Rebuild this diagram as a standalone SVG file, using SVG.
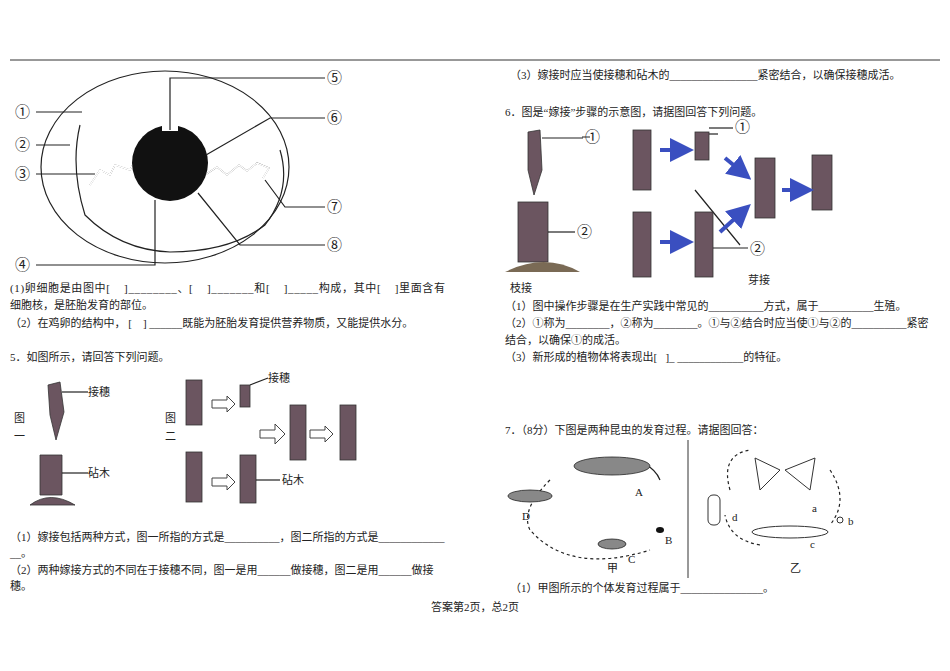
<svg xmlns="http://www.w3.org/2000/svg" width="950" height="671" viewBox="0 0 950 671" xml:space="preserve">
<defs>
<style>
text{font-family:"Liberation Serif","Noto Sans CJK SC",serif;font-size:11px;fill:#222;white-space:pre}
.lb{font-size:15px}
.ln{stroke:#222;stroke-width:1.2;fill:none}
.br{fill:#6b5560;stroke:#333;stroke-width:0.8}
.bw{fill:#888;stroke:#222;stroke-width:0.8}
</style>
<marker id="ba" markerWidth="6" markerHeight="6" refX="3" refY="3" orient="auto"><path d="M0,0L6,3L0,6z" fill="#3a4fc0"/></marker>
</defs>
<rect width="950" height="671" fill="#fff"/>
<line x1="10" y1="60" x2="940" y2="60" stroke="#333"/>
<g id="egg">
<ellipse cx="165" cy="167" rx="124" ry="96" class="ln" stroke-width="2"/>
<path d="M80,125 Q70,167 85,215 Q120,250 170,252 Q230,252 265,225 Q292,190 280,150" class="ln"/>
<path d="M90,185 l10,-15 10,5 5,-10 15,5 5,-10 8,10 -5,8 10,5 M205,175 l12,-8 10,8 12,-10 8,6 10,-8 12,5 -6,10" class="ln" stroke-width="4"/>
<path d="M90,185 l10,-15 10,5 5,-10 15,5 5,-10 8,10 -5,8 10,5 M205,175 l12,-8 10,8 12,-10 8,6 10,-8 12,5 -6,10" stroke="#fff" stroke-width="1.5" fill="none"/>
<circle cx="170" cy="163" r="38" fill="#111"/>
<rect x="162" y="125" width="16" height="6" fill="#fff"/>
</g>
<g id="connectors" class="ln" stroke-width="1">
<path d="M36,112H82 M36,145H70 M36,174H95 M36,265H155V200 M170,130V78H325 M206,155L270,118H325 M265,180L285,207H325 M198,193L240,245H325"/>
<path d="M708,134H718"/>
<path d="M695,190L740,245 M590,137H582"/>
</g>
<g id="egglabels">
<text x="15" y="117" class="lb">①</text><text x="15" y="150" class="lb">②</text><text x="15" y="179" class="lb">③</text><text x="15" y="270" class="lb">④</text>
<text x="327" y="83" class="lb">⑤</text><text x="327" y="123" class="lb">⑥</text><text x="327" y="212" class="lb">⑦</text><text x="327" y="250" class="lb">⑧</text>
</g>
<g id="text-left">
<text x="10" y="292" textLength="435">(1)卵细胞是由图中[    ]________、[    ]_______和[    ]_____构成，其中[    ]里面含有</text>
<text x="10" y="309">细胞核，是胚胎发育的部位。</text>
<text x="10" y="327">（2）在鸡卵的结构中， [    ] ______既能为胚胎发育提供营养物质，又能提供水分。</text>
<text x="10" y="361">5．如图所示，请回答下列问题。</text>
<text x="10" y="541">（1）嫁接包括两种方式，图一所指的方式是__________，图二所指的方式是____________</text>
<text x="10" y="557">__。</text>
<text x="10" y="574">（2）两种嫁接方式的不同在于接穗不同，图一是用______做接穗，图二是用______做接</text>
<text x="10" y="590">穗。</text>
<text x="475" y="611" text-anchor="middle" font-size="10">答案第2页，总2页</text>
</g>
<g id="fig5">
<path d="M48,385l12,-3 4,30 -8,28 -6,-25z" class="br"/>
<path d="M40,455h22v40h-22z" class="br"/><path d="M30,505q20,-15 45,0z" class="br"/>
<line x1="62" y1="392" x2="88" y2="392" class="ln"/><text x="88" y="396" font-size="10">接穗</text>
<line x1="62" y1="473" x2="88" y2="473" class="ln"/><text x="88" y="477" font-size="10">砧木</text>
<text x="14" y="422" font-size="9">图</text><text x="14" y="440" font-size="9">一</text>
<text x="165" y="422" font-size="9">图</text><text x="165" y="440" font-size="9">二</text>
<rect x="186" y="380" width="16" height="45" class="br"/><rect x="240" y="385" width="10" height="22" class="br"/>
<rect x="186" y="452" width="16" height="50" class="br"/><rect x="240" y="455" width="16" height="48" class="br"/>
<rect x="290" y="405" width="16" height="55" class="br"/><rect x="340" y="405" width="16" height="55" class="br"/>
<path d="M212,400h15v-4l8,8-8,8v-4h-15z M212,478h15v-4l8,8-8,8v-4h-15z M260,430h15v-6l10,10-10,10v-6h-15z M310,430h15v-4l8,8-8,8v-4h-15z" fill="#fff" stroke="#444"/>
<line x1="250" y1="385" x2="268" y2="378" class="ln"/><text x="268" y="382" font-size="10">接穗</text>
<line x1="256" y1="480" x2="280" y2="480" class="ln"/><text x="282" y="484" font-size="10">砧木</text>
</g>
<g id="text-right">
<text x="510" y="79">（3）嫁接时应当使接穗和砧木的________________紧密结合，以确保接穗成活。</text>
<text x="505" y="116">6．图是“嫁接”步骤的示意图，请据图回答下列问题。</text>
<text x="505" y="310">（1）图中操作步骤是在生产实践中常见的__________方式，属于__________生殖。</text>
<text x="505" y="327">（2）①称为________，②称为________。①与②结合时应当使①与②的__________紧密</text>
<text x="505" y="344">结合，以确保①的成活。</text>
<text x="505" y="361">（3）新形成的植物体将表现出[   ]_ ____________的特征。</text>
<text x="505" y="434">7．（8分）下图是两种昆虫的发育过程。请据图回答：</text>
<text x="510" y="592">（1）甲图所示的个体发育过程属于_______________。</text>
</g>
<g id="fig6">
<path d="M528,132l12,-2 2,40 -8,25 -6,-25z" class="br"/>
<rect x="518" y="202" width="30" height="60" class="br"/><path d="M505,272q40,-20 75,0z" fill="#7a6a55"/>
<line x1="542" y1="138" x2="583" y2="138" class="ln"/><text x="585" y="142" class="lb">①</text>
<line x1="548" y1="232" x2="575" y2="232" class="ln"/><text x="577" y="237" class="lb">②</text>
<text x="510" y="292">枝接</text><text x="748" y="284">芽接</text>
<rect x="633" y="130" width="18" height="60" class="br"/><rect x="695" y="132" width="14" height="28" class="br"/>
<text x="735" y="132" class="lb">①</text><line x1="709" y1="128" x2="733" y2="128" class="ln"/>
<rect x="633" y="212" width="18" height="65" class="br"/><rect x="695" y="212" width="18" height="65" class="br"/>
<line x1="713" y1="248" x2="748" y2="248" class="ln"/><text x="750" y="254" class="lb">②</text>
<rect x="755" y="158" width="20" height="60" class="br"/><rect x="812" y="155" width="20" height="55" class="br"/>
<g stroke="#3a4fc0" stroke-width="4" marker-end="url(#ba)">
<line x1="660" y1="150" x2="682" y2="150"/><line x1="660" y1="242" x2="682" y2="242"/>
<line x1="725" y1="158" x2="742" y2="172"/><line x1="720" y1="232" x2="742" y2="212"/>
<line x1="782" y1="190" x2="802" y2="190"/></g>
</g>
<g id="fig7">
<line x1="688" y1="440" x2="688" y2="578" stroke="#333"/>
<path d="M550,480 Q520,510 530,530 Q570,575 650,550" class="ln" stroke-dasharray="3,3"/>
<path d="M600,460 Q650,455 660,480" class="ln"/>
<ellipse cx="612" cy="466" rx="38" ry="9" class="bw"/><ellipse cx="530" cy="496" rx="22" ry="6" class="bw"/>
<ellipse cx="612" cy="544" rx="14" ry="5" class="bw"/><ellipse cx="660" cy="530" rx="4" ry="3" fill="#111"/>
<text x="635" y="496" font-size="8">A</text><text x="665" y="544" font-size="8">B</text><text x="628" y="563" font-size="8">C</text><text x="522" y="520" font-size="8">D</text>
<text x="607" y="572" font-size="9">甲</text>
<path d="M730,490 Q720,455 750,450 M830,470 Q850,500 830,525 M760,545 Q730,540 725,515" class="ln" stroke-dasharray="3,3"/>
<path d="M780,470 L755,458 L760,490 Z M785,470 L815,458 L810,490 Z" fill="#fff" stroke="#333"/>
<rect x="708" y="495" width="12" height="30" rx="5" fill="#fff" stroke="#333"/>
<ellipse cx="790" cy="532" rx="38" ry="6" fill="#fff" stroke="#333"/>
<circle cx="840" cy="520" r="3" fill="#fff" stroke="#333"/>
<text x="812" y="512" font-size="8">a</text><text x="848" y="525" font-size="8">b</text><text x="810" y="548" font-size="8">c</text><text x="732" y="521" font-size="8">d</text>
<text x="790" y="572" font-size="9">乙</text>
</g>
</svg>
